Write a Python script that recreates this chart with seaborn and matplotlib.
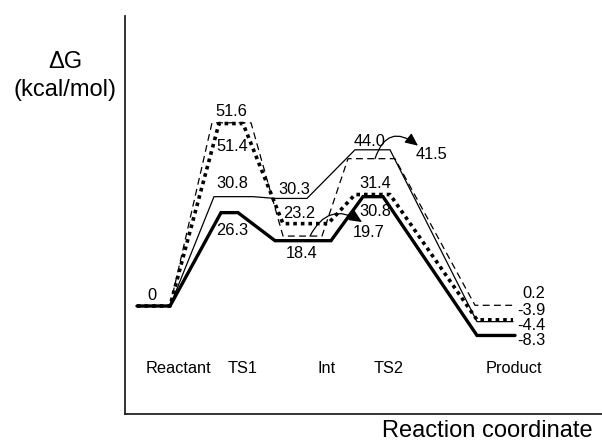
import matplotlib
matplotlib.use("Agg")
import matplotlib.pyplot as plt
import pandas as pd
import seaborn as sns

# ---------------- data ----------------
stages = ["Reactant", "TS1", "Int", "TS2", "Product"]
dg_thin_dashed = [0.0, 51.6, 19.7, 41.5, 0.2]
dg_thick_dotted = [0.0, 51.4, 23.2, 31.4, -3.9]
dg_thin_solid = [0.0, 30.8, 30.3, 44.0, -4.4]
dg_thick_solid = [0.0, 26.3, 18.4, 30.8, -8.3]
reactant_label = "0"
ylabel_text = "\u0394G\n(kcal/mol)"
xlabel_text = "Reaction coordinate"

# ---------------- layout / style ----------------
W, H = 602, 444
AX_L, AX_R, AX_B, AX_T = 124.7, 602.0, 413.7, 16.0   # pixel box of the axes
ZERO_PX, PX_PER_UNIT = 306.0, 3.55
FS = 11.8

series = {
    "thin_dashed": dict(values=dg_thin_dashed, lw=0.9, ls=(0, (5.5, 3.5)),
                        spans=[(137, 170), (212, 251), (283, 322), (348, 395), (475, 513)],
                        offs={1: (-0.5, 11)}),
    "thin_solid": dict(values=dg_thin_solid, lw=0.9, ls="-",
                       spans=[(137, 170), (214, 253), (275, 307), (355, 390), (477, 513)],
                       offs={1: (-1.5, 12.7), 2: (3, 9.3), 3: (-2.5, 8.7)}),
    "thick_dotted": dict(values=dg_thick_dotted, lw=2.6, ls=(0, (1.0, 1.1)),
                         spans=[(137, 170), (219, 243), (283, 328), (355, 390), (477, 513)],
                         offs={1: (1, -23), 2: (-6.5, 10.3), 3: (2.5, 11)}),
    "thick_solid": dict(values=dg_thick_solid, lw=2.4, ls="-",
                        spans=[(137, 170), (221, 238), (275, 331), (363, 383), (477, 515)],
                        offs={1: (2.5, -18.3), 2: (-1, -12.7), 3: (2, -15.3)}),
}
# arrows for thin dashed Int and TS2 labels: (stage, tail x, head offset, text offset, rad)
arrow_specs = [(2, 310, (52, 14), (59, 3.3), 0.55),
               (3, 375, (43, 13), (57, 4.0), 0.7)]
product_label_order = ["thin_dashed", "thick_dotted", "thin_solid", "thick_solid"]
product_label_px_y = [293, 310, 325, 340]
product_label_x = 545
stage_label_x = [178, 243, 327, 389, 514]
stage_label_px_y = 368

sns.set_theme(style="white")
plt.rcParams["font.family"] = ["Liberation Sans", "DejaVu Sans"]
plt.rcParams["text.color"] = "black"

fig = plt.figure(figsize=(W / 100, H / 100), dpi=100)
ax = fig.add_axes([AX_L / W, (H - AX_B) / H, (AX_R - AX_L) / W, (AX_B - AX_T) / H])
ax.set_xlim(AX_L, AX_R)
ax.set_ylim(-(AX_B - ZERO_PX) / PX_PER_UNIT, (ZERO_PX - AX_T) / PX_PER_UNIT)

for name, s in series.items():
    xs, ys = [], []
    for (l, r), v in zip(s["spans"], s["values"]):
        xs += [l, r]
        ys += [v, v]
    df = pd.DataFrame({"x": xs, "y": ys})
    sns.lineplot(data=df, x="x", y="y", sort=False, estimator=None, ax=ax,
                 color="black", lw=s["lw"], linestyle=s["ls"], legend=False,
                 solid_joinstyle="miter", dash_capstyle="butt")
    for i, (dx, dy) in s["offs"].items():
        l, r = s["spans"][i]
        v = s["values"][i]
        ax.annotate(f"{v:.1f}", xy=((l + r) / 2, v), xytext=(dx, dy),
                    textcoords="offset pixels", ha="center", va="center",
                    fontsize=FS, color="black")

# reactant label
l, r = series["thick_solid"]["spans"][0]
ax.annotate(reactant_label, xy=((l + r) / 2, dg_thick_solid[0]), xytext=(-1.5, 11),
            textcoords="offset pixels", ha="center", va="center", fontsize=FS, color="black")

# arrowed labels
for stage_i, tx, head, toff, rad in arrow_specs:
    v = dg_thin_dashed[stage_i]
    ax.annotate("", xy=(tx, v), xytext=head, textcoords="offset pixels",
                arrowprops=dict(arrowstyle="<|-,head_length=0.55,head_width=0.25",
                                connectionstyle=f"arc3,rad={rad}", color="black",
                                lw=0.9, shrinkA=0, shrinkB=0, mutation_scale=14))
    ax.annotate(f"{v:.1f}", xy=(tx, v), xytext=toff, textcoords="offset pixels",
                ha="center", va="center", fontsize=FS, color="black")

# product labels
for name, py in zip(product_label_order, product_label_px_y):
    v = series[name]["values"][-1]
    ax.annotate(f"{v:.1f}", xy=(product_label_x, H - py), xycoords="figure pixels",
                ha="right", va="center", fontsize=FS, color="black")

# stage labels
for sx, st in zip(stage_label_x, stages):
    ax.annotate(st, xy=(sx, H - stage_label_px_y), xycoords=("data", "figure pixels"),
                ha="center", va="center", fontsize=FS, color="black")

# axes look
ax.set_xticks([])
ax.set_yticks([])
ax.set_xlabel("")
ax.set_ylabel("")
for sp in ["top", "right"]:
    ax.spines[sp].set_visible(False)
for sp in ["left", "bottom"]:
    ax.spines[sp].set_color("#222222")
    ax.spines[sp].set_linewidth(1.3)

fig.text(65 / W, (H - 68) / H, "\u0394G", ha="center", va="baseline", fontsize=17, color="black")
fig.text(65 / W, (H - 96) / H, "(kcal/mol)", ha="center", va="baseline", fontsize=17, color="black")
fig.text(593 / W, (H - 437) / H, xlabel_text, ha="right", va="baseline", fontsize=17, color="black")

fig.savefig("out.png", dpi=100)
